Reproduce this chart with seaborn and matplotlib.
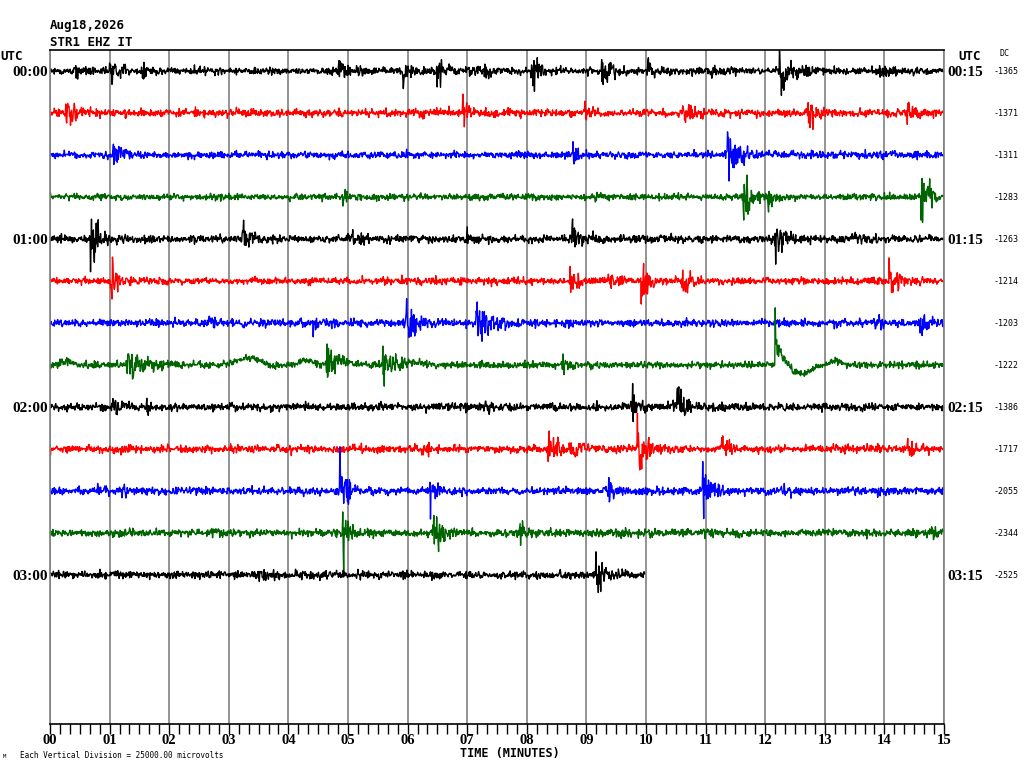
import numpy as np
import pandas as pd
import matplotlib
matplotlib.use("Agg")
import matplotlib.pyplot as plt
import seaborn as sns
from matplotlib.ticker import MultipleLocator

# station / header info
date_label = "Aug18,2026"
station_label = "STR1 EHZ IT"
left_labels = {0: "00:00", 4: "01:00", 8: "02:00", 12: "03:00"}
right_labels = {0: "00:15", 4: "01:15", 8: "02:15", 12: "03:15"}
dc_values = [-1365, -1371, -1311, -1283, -1263, -1214, -1203,
             -1222, -1386, -1717, -2055, -2344, -2525]
trace_colors = ["#000000", "#ff0000", "#0000ff", "#006400"]

# minutes recorded on each 15-minute line (last one is still running)
trace_end = [15.0] * 12 + [9.98]
# background noise, peak size in vertical divisions
noise_level = [0.10, 0.11, 0.10, 0.09, 0.11, 0.10, 0.11,
               0.10, 0.11, 0.11, 0.11, 0.11, 0.11]

# events: (line, minute, peak in divisions, coda decay in minutes)
events = [
    (0, 0.42, 0.19, 0.08), (0, 1.00, 0.24, 0.15), (0, 1.55, 0.17, 0.06),
    (0, 4.85, 0.19, 0.12), (0, 5.93, 0.40, 0.06), (0, 6.49, 0.33, 0.08),
    (0, 7.00, 0.14, 0.05), (0, 7.27, 0.19, 0.08), (0, 8.10, 0.30, 0.10),
    (0, 9.26, 0.36, 0.10), (0, 10.03, 0.24, 0.07), (0, 11.10, 0.20, 0.07),
    (0, 12.25, 0.55, 0.15), (0, 13.90, 0.15, 0.10),
    (1, 0.25, 0.22, 0.12), (1, 6.93, 0.40, 0.06), (1, 8.97, 0.19, 0.06),
    (1, 10.62, 0.30, 0.08), (1, 12.72, 0.30, 0.10), (1, 14.38, 0.26, 0.10),
    (2, 1.06, 0.26, 0.12), (2, 8.76, 0.20, 0.06), (2, 11.38, 0.55, 0.12),
    (3, 4.90, 0.17, 0.07), (3, 9.15, 0.15, 0.05), (3, 11.63, 0.55, 0.10),
    (3, 12.05, 0.26, 0.06), (3, 14.63, 0.45, 0.10),
    (4, 0.70, 0.45, 0.10), (4, 3.22, 0.32, 0.10), (4, 5.07, 0.20, 0.08),
    (4, 7.00, 0.20, 0.06), (4, 8.76, 0.33, 0.08), (4, 12.17, 0.38, 0.10),
    (4, 13.47, 0.26, 0.08),
    (5, 1.04, 0.33, 0.10), (5, 8.72, 0.35, 0.10), (5, 9.37, 0.20, 0.10),
    (5, 9.93, 0.38, 0.10), (5, 10.62, 0.30, 0.08), (5, 14.09, 0.38, 0.10),
    (6, 2.63, 0.13, 0.10), (6, 4.42, 0.16, 0.06), (6, 4.58, 0.15, 0.06),
    (6, 5.99, 0.55, 0.10), (6, 7.16, 0.55, 0.12), (6, 13.80, 0.15, 0.10),
    (6, 14.60, 0.17, 0.08),
    (7, 1.30, 0.35, 0.20), (7, 4.66, 0.43, 0.10), (7, 5.60, 0.42, 0.12),
    (7, 8.60, 0.17, 0.06), (7, 12.17, 0.20, 0.05),
    (8, 1.04, 0.17, 0.10), (8, 1.63, 0.12, 0.05), (8, 7.30, 0.14, 0.08),
    (8, 9.76, 0.30, 0.10), (8, 10.52, 0.40, 0.10),
    (9, 6.24, 0.17, 0.08), (9, 8.36, 0.40, 0.10), (9, 8.72, 0.20, 0.08),
    (9, 9.87, 0.55, 0.12), (9, 11.27, 0.22, 0.08), (9, 14.40, 0.20, 0.10),
    (10, 0.80, 0.12, 0.10), (10, 4.87, 0.50, 0.10), (10, 6.38, 0.30, 0.08),
    (10, 9.36, 0.24, 0.08), (10, 10.96, 0.50, 0.10), (10, 12.20, 0.15, 0.06),
    (11, 4.92, 0.40, 0.10), (11, 6.43, 0.38, 0.10), (11, 7.88, 0.30, 0.05),
    (11, 14.80, 0.20, 0.06),
    (12, 3.47, 0.17, 0.12), (12, 5.85, 0.12, 0.05), (12, 9.18, 0.42, 0.10),
]

# single large first-motion spikes: (line, minute, divisions, + is up)
spikes = [
    (0, 12.24, 0.52), (0, 12.27, -0.58), (0, 5.93, -0.42), (0, 6.50, -0.38),
    (1, 6.93, 0.45), (1, 6.95, -0.33),
    (2, 11.39, -0.62), (2, 11.37, 0.55),
    (3, 11.64, -0.55), (3, 14.62, -0.55),
    (4, 0.68, -0.78), (4, 12.18, -0.60),
    (5, 1.04, -0.43), (5, 14.08, 0.55), (5, 9.92, -0.55),
    (6, 4.42, -0.33), (6, 5.98, 0.58), (6, 7.17, 0.50),
    (7, 12.17, 1.36), (7, 4.65, 0.50), (7, 5.58, 0.45),
    (8, 10.53, 0.45),
    (9, 9.86, 0.85),
    (10, 4.86, 1.05), (10, 6.38, -0.67), (10, 10.95, 0.70), (10, 10.97, -0.66),
    (11, 4.93, -1.05), (11, 4.91, 0.50),
    (12, 9.16, 0.55), (12, 9.20, -0.42),
]

# slow drifts of the baseline on the 01:45 line: (line, minute, divisions, width)
drifts = [
    (7, 0.28, 0.07, 0.10), (7, 3.36, 0.17, 0.22), (7, 3.70, -0.07, 0.15),
    (7, 4.31, 0.12, 0.10), (7, 4.92, 0.12, 0.10), (7, 6.15, 0.07, 0.15),
    (7, 12.60, -0.24, 0.15), (7, 13.20, 0.12, 0.08),
]
# offset step after the 12:10 transient: (line, minute, divisions, decay)
steps = [(7, 12.17, 0.60, 0.12)]

sample_step = 0.008  # minutes
rng = np.random.default_rng(11)

frames = []
for i, end in enumerate(trace_end):
    t = np.arange(0, end, sample_step)
    sigma = np.full_like(t, noise_level[i] / 2.5)
    for line, t0, peak, decay in events:
        if line != i:
            continue
        env = np.where(t >= t0, np.exp(-(t - t0) / (decay * 1.3)),
                       np.exp(-(t0 - t) / 0.01))
        sigma += peak / 1.8 * env
    sig = rng.standard_normal(len(t)) * sigma
    sig = np.clip(sig, -1.2, 1.2)
    for line, tc, h, w in drifts:
        if line == i:
            sig += h * np.exp(-0.5 * ((t - tc) / w) ** 2)
    for line, t0, h, decay in steps:
        if line == i:
            sig += np.where(t >= t0, h * np.exp(-(t - t0) / decay), 0)
    for line, ts, v in spikes:
        if line == i:
            sig[int(round(ts / sample_step))] = v
    frames.append(pd.DataFrame({"minute": t, "offset": i - sig, "line": i}))
df = pd.concat(frames, ignore_index=True)

palette = {i: trace_colors[i % 4] for i in range(len(trace_end))}

fig = plt.figure(figsize=(10.24, 7.68), dpi=100)
ax = fig.add_axes([50 / 1024, 1 - 724 / 768, 894 / 1024, 674 / 768])

sns.lineplot(data=df, x="minute", y="offset", hue="line", units="line",
             estimator=None, sort=False, palette=palette, legend=False,
             linewidth=1.0, ax=ax)

ax.set_xlim(0, 15)
ax.set_ylim(15.55, -0.5)
ax.set_xlabel("")
ax.set_ylabel("")
ax.set_yticks([])
ax.xaxis.set_major_locator(MultipleLocator(1))
ax.xaxis.set_minor_locator(MultipleLocator(1 / 6))
ax.set_xticks(range(16))
ax.set_xticklabels([f"{m:02d}" for m in range(16)],
                   fontfamily="Liberation Serif", fontweight="bold", fontsize=10.5)
ax.tick_params(axis="x", which="both", direction="out", length=7, width=1,
               color="black", pad=0.5)
ax.grid(axis="x", which="major", color="#808080", linewidth=1.2)
ax.set_axisbelow(True)
for side in ["left", "right"]:
    ax.spines[side].set_color("#808080")
    ax.spines[side].set_linewidth(1.2)
for side in ["top", "bottom"]:
    ax.spines[side].set_color("black")
    ax.spines[side].set_linewidth(1.2)


def px(x, y):
    return x / 1024, 1 - y / 768


mono = dict(fontfamily="DejaVu Sans Mono", fontweight="bold", fontsize=9)
fig.text(*px(50, 26), date_label, va="center", ha="left", **mono)
fig.text(*px(50, 42), station_label, va="center", ha="left", **mono)
fig.text(*px(0, 57), "UTC", va="center", ha="left", **mono)
fig.text(*px(958, 57), "UTC", va="center", ha="left", **mono)
fig.text(*px(999, 54), "DC", va="center", ha="left",
         fontfamily="DejaVu Sans Mono", fontsize=6)

for i in range(len(trace_end)):
    y = 72 + 42 * i
    if i in left_labels:
        fig.text(*px(48, y), left_labels[i], va="center", ha="right",
                 fontfamily="Liberation Serif", fontweight="bold", fontsize=11)
        fig.text(*px(947, y), right_labels[i], va="center", ha="left",
                 fontfamily="Liberation Serif", fontweight="bold", fontsize=11)
    fig.text(*px(994, y), str(dc_values[i]), va="center", ha="left",
             fontfamily="DejaVu Sans Mono", fontsize=6)

fig.text(*px(510, 754), "TIME (MINUTES)", va="center", ha="center",
         fontfamily="DejaVu Sans Mono", fontweight="bold", fontsize=8.5)
fig.text(*px(20, 755), "Each Vertical Division = 25000.00 microvolts",
         va="center", ha="left", fontfamily="DejaVu Sans Mono", fontsize=5.5)
fig.text(*px(3, 757), "M", va="center", ha="left",
         fontfamily="DejaVu Sans Mono", fontsize=4)

fig.savefig("out.png", dpi=100)
